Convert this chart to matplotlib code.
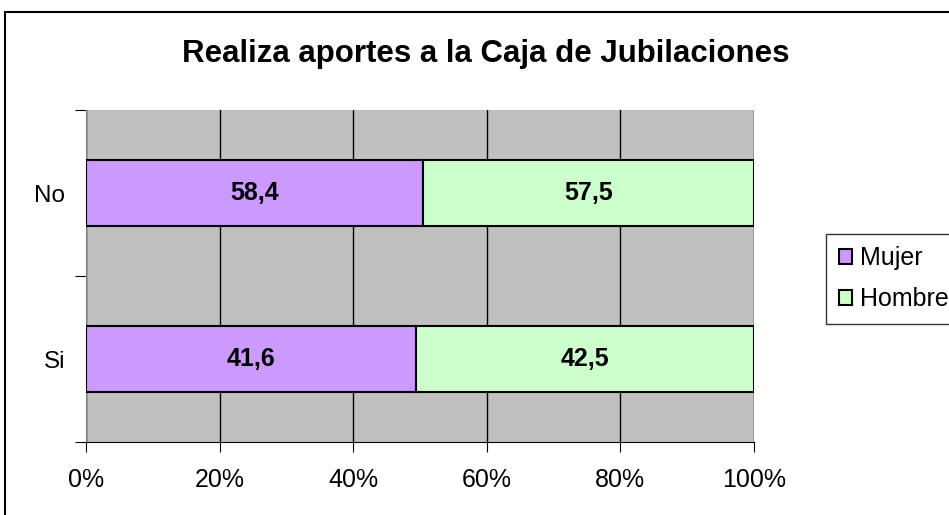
import numpy as np
import matplotlib.pyplot as plt
from matplotlib.patches import Rectangle

plt.rcParams['font.family'] = ['Liberation Sans', 'DejaVu Sans']

categorias = ['Si', 'No']
mujer = [41.6, 58.4]
hombre = [42.5, 57.5]
ticks_x = [0, 20, 40, 60, 80, 100]

m = np.array(mujer)
h = np.array(hombre)
tot = m + h
pm = m / tot * 100
ph = h / tot * 100

fig = plt.figure(figsize=(9.49, 5.15), dpi=100)
ax = fig.add_axes([86/949, 1-442/515, 668/949, 332/515])
ax.set_facecolor('#C0C0C0')

y = np.arange(len(categorias)) + 0.5
ax.barh(y, pm, height=0.4, color='#CC99FF', edgecolor='black', lw=1.5, label='Mujer', zorder=3)
ax.barh(y, ph, left=pm, height=0.4, color='#CCFFCC', edgecolor='black', lw=1.5, label='Hombre', zorder=3)

for i in range(len(categorias)):
    ax.text(pm[i]/2, y[i], f'{mujer[i]:.1f}'.replace('.', ','), ha='center', va='center',
            fontsize=18, fontweight='bold', zorder=4)
    ax.text(pm[i] + ph[i]/2, y[i], f'{hombre[i]:.1f}'.replace('.', ','), ha='center', va='center',
            fontsize=18, fontweight='bold', zorder=4)

ax.set_xlim(0, 100)
ax.set_ylim(0, 2)
ax.set_xticks(ticks_x)
ax.set_xticklabels([f'{t}%' for t in ticks_x], fontsize=18)
ax.set_yticks([0, 1, 2])
ax.set_yticklabels([])
ax.set_yticks(y, minor=True)
ax.set_yticklabels(categorias, minor=True, fontsize=17.5)
ax.tick_params(axis='y', which='minor', length=0, pad=15)
ax.tick_params(axis='y', which='major', length=8, direction='out')
ax.tick_params(axis='x', length=7, direction='out', pad=12)
ax.grid(axis='x', color='black', lw=1, zorder=1)
for s in ['top', 'right']:
    ax.spines[s].set_visible(False)
ax.spines['left'].set_color('gray')
ax.spines['bottom'].set_color('black')

fig.text(486/949, 1-62/515, 'Realiza aportes a la Caja de Jubilaciones', ha='center', va='baseline',
         fontsize=22.5, fontweight='bold')

fig.legend(loc='upper left', bbox_to_anchor=(826/949, 1-234/515), fontsize=18, frameon=True,
           fancybox=False, edgecolor='black', handlelength=0.55, handleheight=0.55, handletextpad=0.3,
           borderpad=0.5, labelspacing=0.68, borderaxespad=0)

fig.patches.append(Rectangle((5/949, -0.1), 1.2, 1 - 12/515 + 0.1, transform=fig.transFigure,
                             fill=False, edgecolor='black', lw=1.5))

fig.savefig('out.png', dpi=100)
